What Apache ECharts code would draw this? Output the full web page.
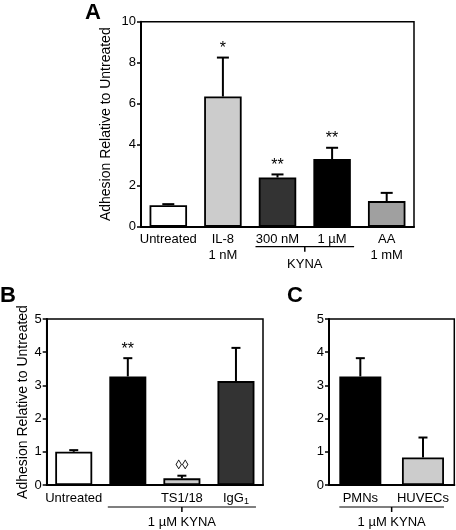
<!DOCTYPE html>
<html><head><meta charset="utf-8">
<script src="https://cdn.jsdelivr.net/npm/echarts@6/dist/echarts.min.js"></script>
<style>html,body{margin:0;padding:0;background:#fff}#c{width:456px;height:530px}</style>
</head><body><div id="c"></div>
<script>
// ---- Panel A ----
const catsA = ['Untreated', 'IL-8\n1 nM', '300 nM', '1 µM', 'AA\n1 mM'];
const valsA = [1.05, 6.35, 2.4, 3.3, 1.25];
const errA = [0.05, 1.9, 0.15, 0.55, 0.4];
const colorsA = ['#ffffff', '#cccccc', '#333333', '#000000', '#a0a0a0'];
const marksA = ['', '*', '**', '**', ''];
const groupsA = [{ from: 2, to: 3, label: 'KYNA' }];
const ticksA = [0, 2, 4, 6, 8, 10];

// ---- Panel B ----
const catsB = ['Untreated', '', 'TS1/18', 'IgG1'];
const valsB = [1.0, 3.27, 0.2, 3.13];
const errB = [0.05, 0.55, 0.08, 1.0];
const colorsB = ['#ffffff', '#000000', '#cccccc', '#333333'];
const marksB = ['', '**', '◊◊', ''];
const groupsB = [{ from: 1, to: 3, label: '1 µM KYNA' }];
const ticksB = [0, 1, 2, 3, 4, 5];

// ---- Panel C ----
const catsC = ['PMNs', 'HUVECs'];
const valsC = [3.27, 0.83];
const errC = [0.55, 0.6];
const colorsC = ['#000000', '#cccccc'];
const marksC = ['', ''];
const groupsC = [{ from: 0, to: 1, label: '1 µM KYNA' }];
const ticksC = [0, 1, 2, 3, 4, 5];

const yName = 'Adhesion Relative to Untreated';
const FONT = '"Liberation Sans", Arial, sans-serif';

const chart = echarts.init(document.getElementById('c'), null, { renderer: 'canvas' });

const grids = [], xAxes = [], yAxes = [], series = [];

function panel(i, grid, cats, vals, errs, colors, marks, groups, ticks, opt) {
  grids.push(Object.assign({ show: true, borderColor: '#000', borderWidth: 1.5, backgroundColor: 'transparent' }, grid));
  xAxes.push({
    type: 'category', gridIndex: i, data: cats,
    axisLine: { lineStyle: { color: '#000', width: 2 } },
    axisTick: { length: 3, lineStyle: { color: '#000', width: 1.5 } },
    axisLabel: {
      interval: 0, color: '#000', fontSize: 13, fontFamily: FONT, margin: 5, lineHeight: 16,
      formatter: function (v) { return v === 'IgG1' ? 'IgG{sub|1}' : v; },
      rich: { sub: { fontSize: 9, fontFamily: FONT, color: '#000', padding: [7, 0, 0, 0] } }
    }
  });
  yAxes.push({
    type: 'value', gridIndex: i, min: ticks[0], max: ticks[ticks.length - 1], interval: ticks[1] - ticks[0],
    name: opt.name || '', nameLocation: 'middle', nameGap: opt.nameGap || 20, nameMoveOverlap: false,
    nameTextStyle: { color: '#000', fontSize: 14, fontFamily: FONT },
    splitLine: { show: false },
    axisLine: { show: true, lineStyle: { color: '#000', width: 2 } },
    axisTick: { show: true, inside: false, length: 4, lineStyle: { color: '#000', width: 1.5 } },
    axisLabel: { color: '#000', fontSize: 13, fontFamily: FONT, margin: 5 }
  });
  series.push({
    type: 'bar', xAxisIndex: i, yAxisIndex: i, barWidth: opt.barWidth,
    data: vals.map((v, j) => ({ value: v, itemStyle: { color: colors[j] } })),
    itemStyle: { borderColor: '#000', borderWidth: 1.8 },
    silent: true, z: 2
  });
  series.push({
    type: 'custom', xAxisIndex: i, yAxisIndex: i, clip: false, silent: true, z: 3,
    data: vals.map((v, j) => [j, v, errs[j]]),
    encode: { x: 0, y: 1 },
    renderItem: function (params, api) {
      const x = api.value(0), v = api.value(1), e = api.value(2);
      const top = api.coord([x, v]);
      const cap = api.coord([x, v + e]);
      const hw = opt.capHalf;
      const children = [
        { type: 'line', shape: { x1: top[0], y1: top[1], x2: cap[0], y2: cap[1] }, style: { stroke: '#000', lineWidth: 2 } },
        { type: 'line', shape: { x1: cap[0] - hw, y1: cap[1], x2: cap[0] + hw, y2: cap[1] }, style: { stroke: '#000', lineWidth: 2 } }
      ];
      const m = marks[params.dataIndex];
      if (m) {
        const isDia = m.indexOf('◊') >= 0;
        children.push({
          type: 'text',
          style: {
            text: m, x: cap[0], y: cap[1] - (isDia ? 4 : 1), align: 'center', verticalAlign: 'bottom',
            font: (isDia ? '13px ' : '16px ') + FONT, fill: '#000'
          }
        });
      }
      return { type: 'group', children: children };
    }
  });
  series.push({
    type: 'custom', xAxisIndex: i, yAxisIndex: i, clip: false, silent: true, z: 3,
    data: groups.map(g => [g.from, g.to, 0]),
    encode: { x: [0, 1], y: 2 },
    renderItem: function (params, api) {
      const g = groups[params.dataIndex];
      const p1 = api.coord([api.value(0), 0]);
      const p2 = api.coord([api.value(1), 0]);
      const y = p1[1] + opt.lineOff;
      const mid = (p1[0] + p2[0]) / 2;
      return {
        type: 'group', children: [
          { type: 'line', shape: { x1: p1[0] - opt.lineHalf, y1: y, x2: p2[0] + opt.lineHalf, y2: y }, style: { stroke: '#000', lineWidth: 1.2 } },
          { type: 'line', shape: { x1: mid, y1: y, x2: mid, y2: y + 5 }, style: { stroke: '#000', lineWidth: 1.5 } },
          { type: 'text', style: { text: g.label, x: mid, y: y + opt.textOff, align: 'center', verticalAlign: 'middle', font: '13px ' + FONT, fill: '#000' } }
        ]
      };
    }
  });
}

panel(0, { left: 141, right: 42, top: 21.7, bottom: 303.3 }, catsA, valsA, errA, colorsA, marksA, groupsA, ticksA,
  { name: yName, nameGap: 28, barWidth: 37.5, capHalf: 6, lineOff: 20, lineHalf: 22, textOff: 18 });
panel(1, { left: 46.7, right: 193, top: 319, bottom: 45 }, catsB, valsB, errB, colorsB, marksB, groupsB, ticksB,
  { name: yName, nameGap: 17, barWidth: 37, capHalf: 4.5, lineOff: 22, lineHalf: 20, textOff: 15 });
panel(2, { left: 329, right: 1.7, top: 319, bottom: 45 }, catsC, valsC, errC, colorsC, marksC, groupsC, ticksC,
  { name: '', barWidth: 42, capHalf: 4.5, lineOff: 22, lineHalf: 21, textOff: 15 });

chart.setOption({
  animation: false,
  backgroundColor: '#fff',
  grid: grids, xAxis: xAxes, yAxis: yAxes, series: series,
  graphic: [
    { type: 'text', left: 85, top: 2, style: { text: 'A', font: 'bold 22px ' + FONT, fill: '#000' } },
    { type: 'text', left: 0, top: 285, style: { text: 'B', font: 'bold 22px ' + FONT, fill: '#000' } },
    { type: 'text', left: 287, top: 285, style: { text: 'C', font: 'bold 22px ' + FONT, fill: '#000' } }
  ]
});
</script></body></html>
